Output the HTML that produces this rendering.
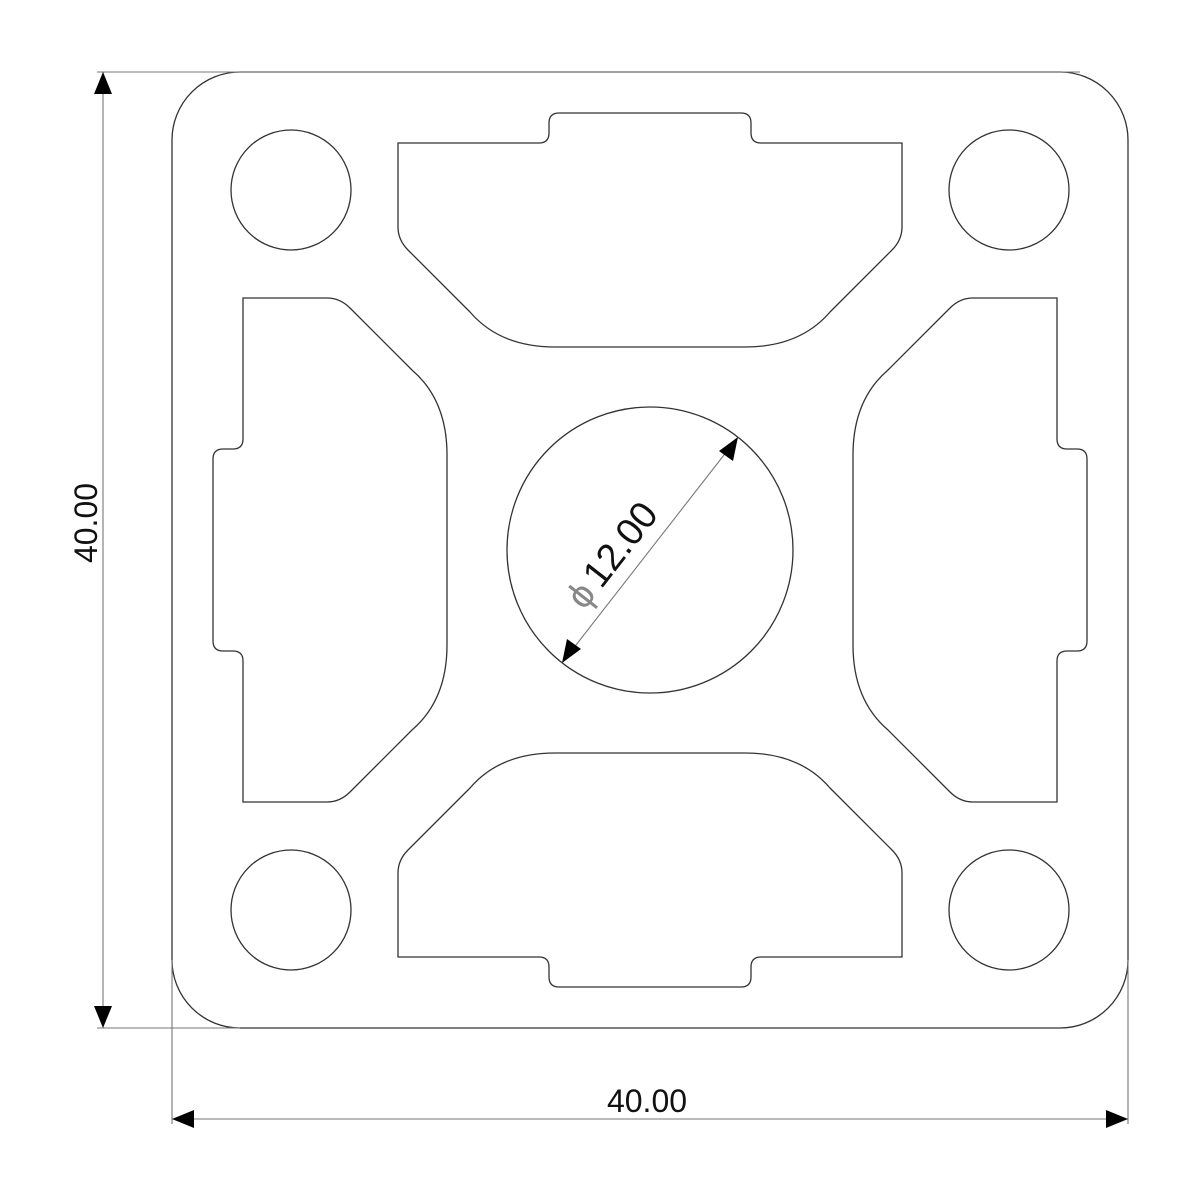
<!DOCTYPE html>
<html><head><meta charset="utf-8"><style>html,body{margin:0;padding:0;background:#fff}svg{display:block}</style></head>
<body>
<svg width="1200" height="1200" viewBox="0 0 1200 1200" xmlns="http://www.w3.org/2000/svg">
<rect x="0" y="0" width="1200" height="1200" fill="#fff"/>
<g fill="none" stroke="#333" stroke-width="1.3">
<rect x="172" y="72" width="956" height="956" rx="68" ry="68"/>
<circle cx="650" cy="550" r="143"/>
<g transform="translate(650,550)">
<circle cx="-359" cy="-360" r="60"/>
<circle cx="359" cy="-360" r="60"/>
<circle cx="-359" cy="360" r="60"/>
<circle cx="359" cy="360" r="60"/>
<g id="slot">
<path d="M -252,-407 L -111,-407 Q -101,-407 -101,-417 L -101,-427 Q -101,-437 -91,-437 L 91,-437 Q 101,-437 101,-427 L 101,-417 Q 101,-407 111,-407 L 252,-407 L 252,-323 Q 252,-310 242,-300 L 180,-238 Q 150,-203 95,-203 L -95,-203 Q -150,-203 -180,-238 L -242,-300 Q -252,-310 -252,-323 Z"/>
</g>
<use href="#slot" transform="rotate(90)"/>
<use href="#slot" transform="rotate(180)"/>
<use href="#slot" transform="rotate(270)"/>
</g>
</g>
<g stroke="#777" stroke-width="1.1" fill="none">
<line x1="97" y1="72" x2="1080" y2="72"/>
<line x1="97" y1="1028" x2="240" y2="1028"/>
<line x1="103" y1="72" x2="103" y2="1028"/>
<line x1="172" y1="960" x2="172" y2="1124"/>
<line x1="1128" y1="960" x2="1128" y2="1124"/>
<line x1="172" y1="1119" x2="1128" y2="1119"/>
<line x1="738" y1="437" x2="562" y2="663"/>
</g>
<g fill="#000">
<polygon points="103,72 94,94 112,94"/>
<polygon points="103,1028 94,1006 112,1006"/>
<polygon points="172,1119 194,1110 194,1128"/>
<polygon points="1128,1119 1106,1110 1106,1128"/>
<polygon points="738,437 719,451 733,461"/>
<polygon points="562,663 567,639 581,649"/>
</g>
<g font-family="Liberation Sans, sans-serif" fill="#111">
<text x="647" y="1112" font-size="32" text-anchor="middle">40.00</text>
<text x="0" y="0" font-size="32" text-anchor="middle" transform="translate(97,523) rotate(-90)">40.00</text>
<text x="0" y="0" font-size="38" text-anchor="middle" transform="translate(622,563) rotate(-52)"><tspan fill="#888">ϕ</tspan><tspan dx="6">12.00</tspan></text>
</g>
</svg>
</body></html>
